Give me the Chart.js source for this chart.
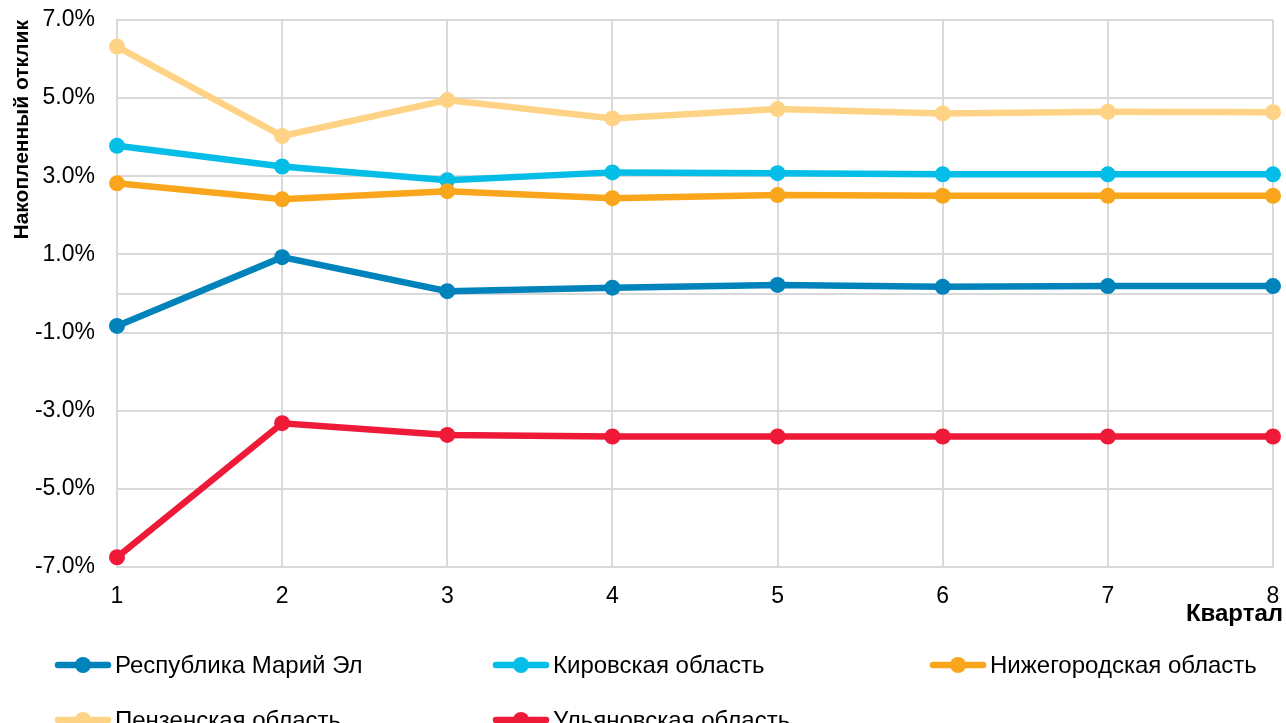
<!DOCTYPE html>
<html lang="ru">
<head>
<meta charset="utf-8">
<title>Накопленный отклик по регионам</title>
<script src="https://cdn.jsdelivr.net/npm/chart.js@4.4.1/dist/chart.umd.min.js"></script>
<style>
  html, body { margin: 0; padding: 0; background: #ffffff; }
  #wrap { position: relative; width: 1286px; height: 723px; overflow: hidden; }
  canvas { display: block; }
</style>
</head>
<body>
<div id="wrap"><canvas id="chart" width="1286" height="723"></canvas></div>
<script>
// Quarters after the shock
const quarters = ['1', '2', '3', '4', '5', '6', '7', '8'];

// Accumulated response, %
const mariEl     = [-0.83, 0.93, 0.06, 0.15, 0.22, 0.17, 0.19, 0.19];
const kirov      = [3.78, 3.25, 2.90, 3.10, 3.08, 3.05, 3.05, 3.05];
const nizhny     = [2.82, 2.41, 2.62, 2.44, 2.52, 2.50, 2.50, 2.50];
const penza      = [6.32, 4.03, 4.95, 4.48, 4.72, 4.61, 4.65, 4.64];
const ulyanovsk  = [-6.75, -3.32, -3.62, -3.66, -3.66, -3.66, -3.66, -3.66];

const seriesNames = ['Республика Марий Эл', 'Кировская область', 'Нижегородская область', 'Пензенская область', 'Ульяновская область'];
const seriesValues = [mariEl, kirov, nizhny, penza, ulyanovsk];
const seriesColors = ['#0083BB', '#05BEE8', '#F9A61C', '#FFD385', '#EE1A38'];

// Y axis ticks (0 carries a grid line only)
const yTicks = [-7, -5, -3, -1, 0, 1, 3, 5, 7];

const xTitle = 'Квартал';
const yTitle = 'Накопленный отклик';

const FONT = '"Liberation Sans", Arial, sans-serif';

const datasets = seriesNames.map((name, i) => ({
  label: name,
  data: seriesValues[i],
  borderColor: seriesColors[i],
  backgroundColor: seriesColors[i],
  pointBackgroundColor: seriesColors[i],
  borderWidth: 6.5,
  pointRadius: 8,
  pointBorderWidth: 0,
  pointHoverRadius: 8,
  tension: 0,
  fill: false,
  clip: false,
  order: seriesNames.length - i
}));

// Legend laid out as a three-column grid under the plot, plus the x axis caption
const gridLegend = {
  id: 'gridLegend',
  afterDraw(chart) {
    const ctx = chart.ctx;
    const cols = [55, 493, 930];
    const rows = [665, 720];
    ctx.save();
    ctx.font = '24px ' + FONT;
    ctx.textBaseline = 'middle';
    ctx.textAlign = 'left';
    chart.data.datasets.forEach((ds, i) => {
      const x = cols[i % 3];
      const y = rows[Math.floor(i / 3)];
      ctx.strokeStyle = ds.borderColor;
      ctx.lineWidth = 6.5;
      ctx.lineCap = 'round';
      ctx.beginPath();
      ctx.moveTo(x + 3, y);
      ctx.lineTo(x + 53, y);
      ctx.stroke();
      ctx.fillStyle = ds.borderColor;
      ctx.beginPath();
      ctx.arc(x + 28, y, 8, 0, Math.PI * 2);
      ctx.fill();
      ctx.fillStyle = '#000000';
      ctx.fillText(ds.label, x + 60, y + 1);
    });

    ctx.font = 'bold 24px ' + FONT;
    ctx.textAlign = 'right';
    ctx.fillText(xTitle, 1283, 614);
    ctx.restore();
  }
};

new Chart(document.getElementById('chart'), {
  type: 'line',
  data: { labels: quarters, datasets },
  plugins: [gridLegend],
  options: {
    responsive: false,
    animation: false,
    events: [],
    layout: { autoPadding: false, padding: { left: 0, right: 13, top: 20, bottom: 90 } },
    plugins: {
      legend: { display: false },
      tooltip: { enabled: false }
    },
    scales: {
      x: {
        type: 'category',
        offset: false,
        grid: { color: '#D9D9D9', lineWidth: 2, drawTicks: true, tickLength: 16, tickColor: 'rgba(0,0,0,0)' },
        border: { color: '#D9D9D9', width: 2 },
        ticks: { color: '#000000', font: { family: FONT, size: 23 }, padding: 0, maxRotation: 0, autoSkip: false },
        afterFit(scale) { scale.height = 66; }
      },
      y: {
        min: -7,
        max: 7,
        afterBuildTicks(scale) { scale.ticks = yTicks.map(v => ({ value: v })); },
        grid: { color: '#D9D9D9', lineWidth: 2, drawTicks: true, tickLength: 22, tickColor: 'rgba(0,0,0,0)' },
        border: { color: '#D9D9D9', width: 2 },
        ticks: {
          color: '#000000',
          font: { family: FONT, size: 23 },
          padding: 0,
          autoSkip: false,
          callback: (v) => (v === 0 ? '' : v.toFixed(1) + '%')
        },
        title: {
          display: true,
          text: yTitle,
          align: 'end',
          color: '#000000',
          font: { family: FONT, size: 21, weight: 'bold' },
          padding: { top: 10, bottom: 0 }
        },
        afterFit(scale) { scale.width = 117; }
      }
    }
  }
});
</script>
</body>
</html>
